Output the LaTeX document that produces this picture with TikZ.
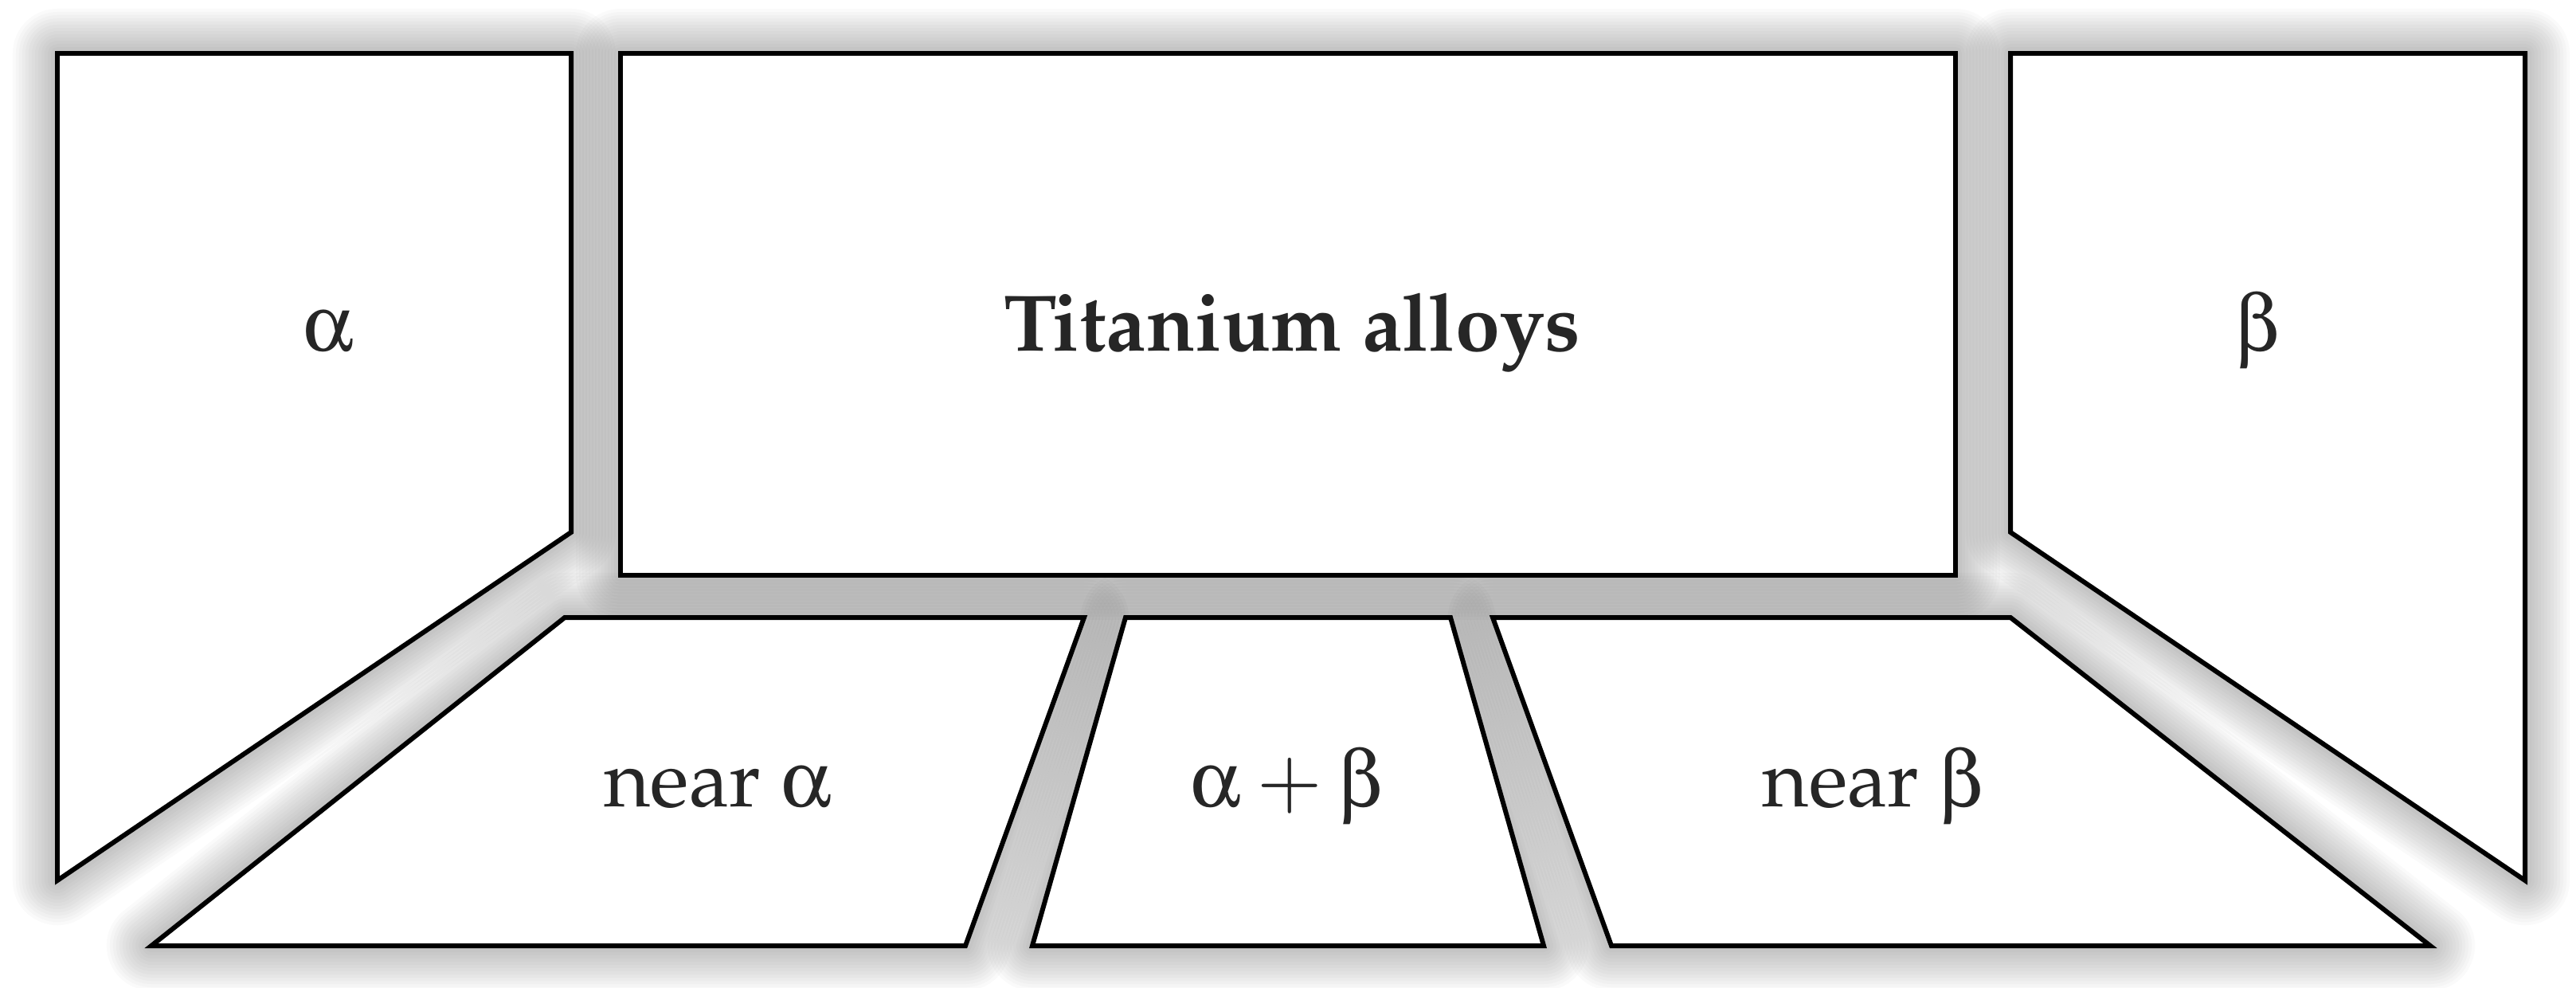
\documentclass[tikz,border=0pt]{standalone}
\usepackage[T1]{fontenc}
\usepackage{mathpazo}
\usepackage[Symbol]{upgreek}
\tikzset{
x=0.01cm, y=-0.01cm,
panel/.style={draw=black, line width=1.7pt, fill=white, line join=miter},
glow/.style={draw=black, opacity=0.018, line join=round},
tag/.style={anchor=base, text=black!85, font=\fontsize{28.6}{34}\selectfont},
}
\newcommand{\panelAlpha}{(72,67) -- (717,67) -- (717,668) -- (72,1105) -- cycle}
\newcommand{\panelTitle}{(779,67) rectangle (2455,722)}
\newcommand{\panelBeta}{(2524,67) -- (3170,67) -- (3170,1105) -- (2524,668) -- cycle}
\newcommand{\panelNearA}{(709,775) -- (1361,775) -- (1212,1187) -- (190,1187) -- cycle}
\newcommand{\panelMix}{(1413,775) -- (1821,775) -- (1938,1187) -- (1296,1187) -- cycle}
\newcommand{\panelNearB}{(1874,775) -- (2524,775) -- (3051,1187) -- (2023,1187) -- cycle}

\begin{document}
\begin{tikzpicture}
    \useasboundingbox (0,0) rectangle (3234,1239);
    % soft shadows
    \foreach \p in {\panelAlpha,\panelTitle,\panelBeta,\panelNearA,\panelMix,\panelNearB}
        \foreach \r in {4,8,...,56}
            \draw[glow, line width=\r*0.02cm] \p;

    \foreach \p in {\panelAlpha,\panelTitle,\panelBeta,\panelNearA,\panelMix,\panelNearB}
        \draw[panel] \p;

    \node[tag] (alpha) at (412,440) {$\upalpha$};
    \node[tag] (title) at (1622,440) {\bfseries Titanium alloys};
    \node[tag] (beta) at (2834,440) {$\upbeta$};
    \node[tag] (nearalpha) at (901,1012) {near $\upalpha$};
    \node[tag] (mix) at (1615,1012) {$\upalpha + \upbeta$};
    \node[tag] (nearbeta) at (2351,1012) {near $\upbeta$};
\end{tikzpicture}
\end{document}
